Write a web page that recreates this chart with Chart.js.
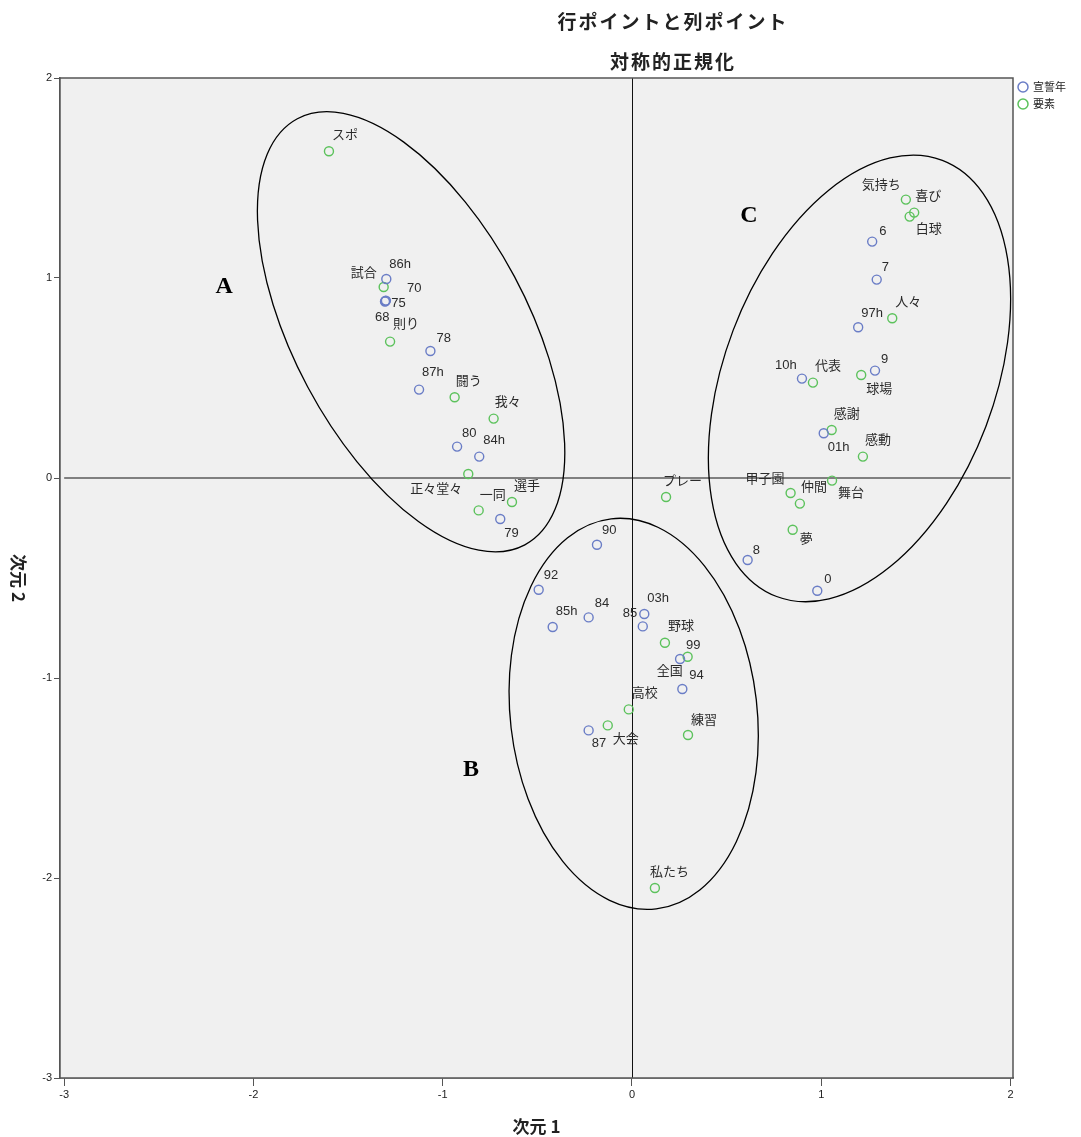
<!DOCTYPE html>
<html>
<head>
<meta charset="utf-8">
<script src="https://cdn.jsdelivr.net/npm/chart.js@4.4.1/dist/chart.umd.min.js"></script>
<style>
  html, body { margin: 0; padding: 0; background: #fff; }
  canvas { display: block; }
</style>
</head>
<body>
<canvas id="caChart" width="1081" height="1137"></canvas>
<script>
// row points (宣誓年)
const rowLabels = ['68', '70', '75', '78', '79', '80', '84', '84h', '85', '85h', '86h', '87', '87h',
  '90', '92', '94', '97h', '99', '0', '01h', '03h', '6', '7', '8', '9', '10h'];
const rowX = [-1.305, -1.300, -1.303, -1.065, -0.696, -0.924, -0.229, -0.807, 0.057, -0.419, -1.298, -0.229, -1.125,
  -0.185, -0.493, 0.266, 1.195, 0.254, 0.979, 1.013, 0.065, 1.269, 1.293, 0.611, 1.284, 0.898];
const rowY = [0.882, 0.887, 0.885, 0.635, -0.205, 0.157, -0.697, 0.107, -0.742, -0.745, 0.995, -1.262, 0.442,
  -0.334, -0.559, -1.055, 0.754, -0.905, -0.564, 0.224, -0.680, 1.182, 0.992, -0.410, 0.537, 0.497];

// column points (要素)
const colLabels = ['スポ', '試合', '則り', '闘う', '我々', '正々堂々', '選手', '一同', 'プレー',
  '野球', '全国', '高校', '大会', '練習', '私たち',
  '気持ち', '喜び', '白球', '人々', '球場', '代表', '感謝', '感動', '舞台', '甲子園', '仲間', '夢'];
const colX = [-1.601, -1.312, -1.278, -0.937, -0.731, -0.865, -0.634, -0.810, 0.180,
  0.174, 0.294, -0.017, -0.128, 0.296, 0.121,
  1.447, 1.491, 1.467, 1.375, 1.211, 0.956, 1.055, 1.220, 1.057, 0.838, 0.887, 0.849];
const colY = [1.634, 0.955, 0.682, 0.404, 0.297, 0.020, -0.120, -0.162, -0.095,
  -0.824, -0.894, -1.157, -1.237, -1.285, -2.050,
  1.392, 1.327, 1.307, 0.799, 0.515, 0.477, 0.240, 0.107, -0.013, -0.075, -0.128, -0.259];

const xTicks = [-3, -2, -1, 0, 1, 2];
const yTicks = [2, 1, 0, -1, -2, -3];

// where each point label sits (px from the point: left edge, middle)
const labelOffsets = {
  'スポ': [3, -16], '86h': [3, -15], '試合': [-33, -14], '70': [21, -12], '75': [6, 2], '68': [-10, 16],
  '則り': [3, -17], '78': [6, -13], '87h': [3, -17], '闘う': [1, -16], '我々': [1, -16], '80': [5, -13],
  '84h': [4, -16], '正々堂々': [-58, 15], '一同': [1, -15], '選手': [2, -16], '79': [4, 14],
  'プレー': [-3, -16], '90': [5, -14], '92': [5, -14], '85h': [3, -16], '84': [6, -14], '03h': [3, -16],
  '85': [-20, -13], '野球': [3, -16], '99': [6, -14], '全国': [-31, 15], '94': [7, -14], '高校': [3, -16],
  '大会': [5, 14], '87': [3, 13], '練習': [3, -15], '私たち': [-5, -16], '気持ち': [-44, -14],
  '喜び': [1, -16], '白球': [6, 13], '6': [7, -10], '7': [5, -12], '人々': [3, -16], '97h': [3, -14],
  '9': [6, -11], '球場': [5, 14], '10h': [-27, -13], '代表': [2, -16], '感謝': [2, -16], '01h': [4, 14],
  '感動': [2, -16], '甲子園': [-45, -14], '仲間': [1, -16], '舞台': [6, 13], '夢': [7, 10], '8': [5, -10], '0': [7, -11]
};

// hand drawn cluster rings: centre in data units, radii in px, rotation in degrees
const clusterRings = [
  { tag: 'A', cx: -1.167, cy: 0.731, rx: 241.5, ry: 117.2, rot: 61.9, tx: -2.155, ty: 0.955 },
  { tag: 'B', cx: 0.009, cy: -1.179, rx: 196.3, ry: 123.4, rot: 83.4, tx: -0.85, ty: -1.46 },
  { tag: 'C', cx: 1.202, cy: 0.498, rx: 233.3, ry: 135.2, rot: -69.2, tx: 0.618, ty: 1.31 }
];

const BLUE = '#6a7dc6';
const GREEN = '#5cc25c';
const LABEL_FONT = '13px "Liberation Sans", "Noto Sans CJK JP", sans-serif';
const CJK = '"Noto Sans CJK JP", "Liberation Sans", sans-serif';

const plotDecor = {
  id: 'plotDecor',
  beforeDatasetsDraw(chart) {
    const { ctx, chartArea: a, scales: { x, y } } = chart;
    ctx.save();
    ctx.fillStyle = '#f0f0f0';
    ctx.fillRect(a.left, a.top, a.right - a.left, a.bottom - a.top);
    // zero lines
    ctx.strokeStyle = '#808080';
    ctx.lineWidth = 2;
    ctx.beginPath();
    ctx.moveTo(x.getPixelForValue(-3), y.getPixelForValue(0));
    ctx.lineTo(x.getPixelForValue(2), y.getPixelForValue(0));
    ctx.stroke();
    ctx.strokeStyle = '#111';
    ctx.lineWidth = 1;
    ctx.beginPath();
    ctx.moveTo(Math.round(x.getPixelForValue(0)) + 0.5, a.top);
    ctx.lineTo(Math.round(x.getPixelForValue(0)) + 0.5, a.bottom);
    ctx.stroke();
    ctx.restore();
  },
  afterDatasetsDraw(chart) {
    const { ctx, chartArea: a, scales: { x, y } } = chart;
    ctx.save();
    // point labels
    ctx.fillStyle = '#2b2b2b';
    ctx.font = LABEL_FONT;
    ctx.textAlign = 'left';
    ctx.textBaseline = 'middle';
    [rowLabels, colLabels].forEach((names, i) => {
      chart.getDatasetMeta(i).data.forEach((pt, j) => {
        const off = labelOffsets[names[j]] || [4, -14];
        ctx.fillText(names[j], pt.x + off[0], pt.y + off[1]);
      });
    });
    // rings and letters
    clusterRings.forEach(r => {
      ctx.strokeStyle = '#000';
      ctx.lineWidth = 1.3;
      ctx.beginPath();
      ctx.ellipse(x.getPixelForValue(r.cx), y.getPixelForValue(r.cy), r.rx, r.ry, r.rot * Math.PI / 180, 0, Math.PI * 2);
      ctx.stroke();
      ctx.fillStyle = '#000';
      ctx.font = 'bold 24px "Liberation Serif", "DejaVu Serif", serif';
      ctx.textAlign = 'center';
      ctx.fillText(r.tag, x.getPixelForValue(r.tx), y.getPixelForValue(r.ty));
    });
    // frame
    ctx.strokeStyle = '#555';
    ctx.lineWidth = 1.5;
    ctx.strokeRect(a.left, a.top, a.right - a.left, a.bottom - a.top);
    ctx.restore();
  },
  afterDraw(chart) {
    const { ctx } = chart;
    ctx.save();
    ctx.fillStyle = '#222';
    ctx.textAlign = 'center';
    ctx.textBaseline = 'middle';
    ctx.letterSpacing = '2px';
    ctx.font = 'bold 19px ' + CJK;
    ctx.fillText('行ポイントと列ポイント', 673, 22);
    ctx.fillText('対称的正規化', 673, 62);
    ctx.letterSpacing = '0px';
    // y axis title, reads top to bottom
    ctx.font = 'bold 17px ' + CJK;
    ctx.translate(18, 578);
    ctx.rotate(Math.PI / 2);
    ctx.fillText('次元 2', 0, 0);
    ctx.restore();
    // legend
    ctx.save();
    ctx.font = '11px ' + CJK;
    ctx.textBaseline = 'middle';
    [['宣誓年', BLUE, 87], ['要素', GREEN, 104]].forEach(([txt, col, yy]) => {
      ctx.strokeStyle = col;
      ctx.lineWidth = 1.5;
      ctx.beginPath();
      ctx.arc(1023, yy, 5, 0, Math.PI * 2);
      ctx.stroke();
      ctx.fillStyle = '#222';
      ctx.fillText(txt, 1033, yy);
    });
    ctx.restore();
  }
};

const ctx = document.getElementById('caChart').getContext('2d');
const caChart = new Chart(ctx, {
  type: 'scatter',
  data: {
    datasets: [{
      label: '宣誓年',
      data: rowX.map((v, i) => ({ x: v, y: rowY[i] })),
      borderColor: BLUE,
      backgroundColor: 'rgba(0,0,0,0)',
      borderWidth: 1.4,
      pointRadius: 4.5
    }, {
      label: '要素',
      data: colX.map((v, i) => ({ x: v, y: colY[i] })),
      borderColor: GREEN,
      backgroundColor: 'rgba(0,0,0,0)',
      borderWidth: 1.4,
      pointRadius: 4.5
    }]
  },
  options: {
    responsive: false,
    animation: false,
    layout: { padding: { left: 0, top: 78, right: 68, bottom: 0 } },
    plugins: {
      legend: { display: false },
      tooltip: { enabled: false }
    },
    scales: {
      x: {
        type: 'linear',
        min: -3.022,
        max: 2.013,
        afterBuildTicks: s => { s.ticks = xTicks.map(v => ({ value: v })); },
        afterFit: s => { s.height = 59; },
        grid: { drawOnChartArea: false, drawTicks: true, tickLength: 8, color: '#555' },
        border: { display: true, color: '#555', width: 1.5 },
        ticks: { color: '#222', font: { size: 11, family: '"Liberation Sans", sans-serif' }, padding: 2, maxRotation: 0 },
        title: {
          display: true,
          text: '次元 1',
          color: '#222',
          font: { size: 17, weight: 'bold', family: CJK },
          padding: { top: 0, bottom: 0 }
        }
      },
      y: {
        type: 'linear',
        min: -3,
        max: 2,
        afterBuildTicks: s => { s.ticks = yTicks.map(v => ({ value: v })); },
        afterFit: s => { s.width = 60; },
        grid: { drawOnChartArea: false, drawTicks: true, tickLength: 6, color: '#555' },
        border: { display: true, color: '#555', width: 1.5 },
        ticks: { color: '#222', font: { size: 11, family: '"Liberation Sans", sans-serif' }, padding: 2 }
      }
    }
  },
  plugins: [plotDecor]
});
</script>
</body>
</html>
